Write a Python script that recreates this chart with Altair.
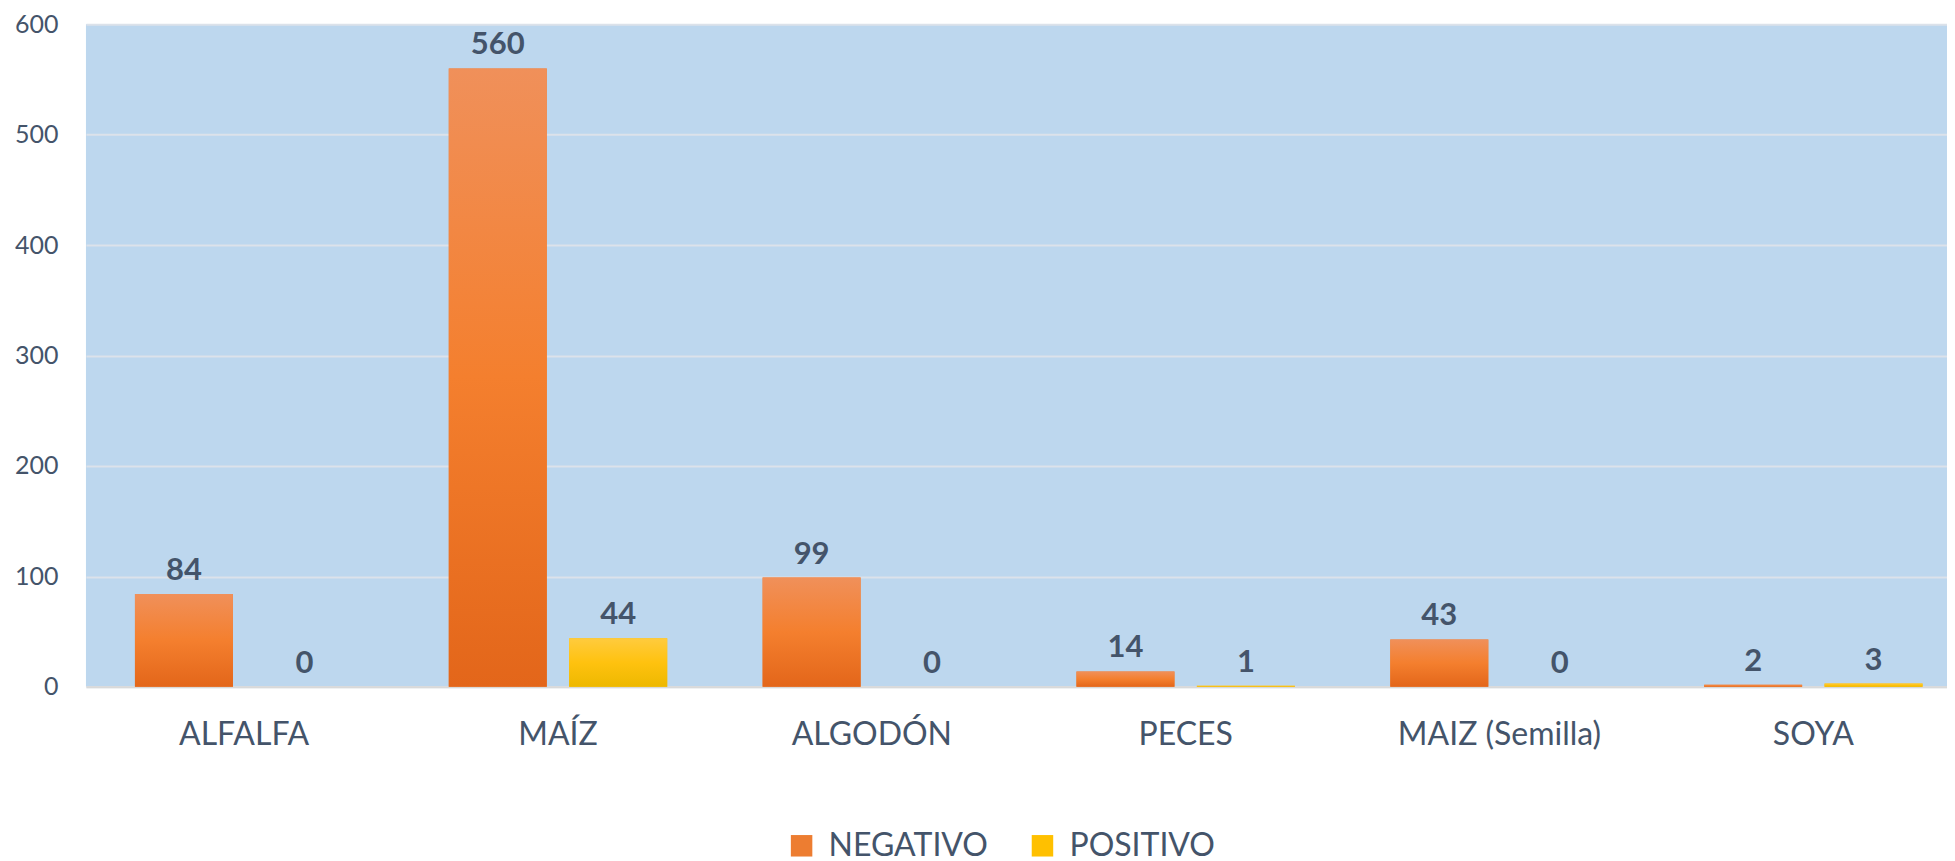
import altair as alt
import pandas as pd

cultivos = ["ALFALFA", "MAÍZ", "ALGODÓN", "PECES", "MAIZ (Semilla)", "SOYA"]
negativo = [84, 560, 99, 14, 43, 2]
positivo = [0, 44, 0, 1, 0, 3]
series = ["NEGATIVO", "POSITIVO"]
y_ticks = [0, 100, 200, 300, 400, 500, 600]

rows = []
for c, n, p in zip(cultivos, negativo, positivo):
    rows.append({"Cultivo": c, "Serie": "NEGATIVO", "Valor": n})
    rows.append({"Cultivo": c, "Serie": "POSITIVO", "Valor": p})
df = pd.DataFrame(rows)

TXT = "#44546A"
FONT = "Lato"

x_enc = alt.X(
    "Cultivo:N",
    sort=cultivos,
    scale=alt.Scale(domain=cultivos, paddingInner=0.304, paddingOuter=0.117, align=0.667),
    axis=alt.Axis(
        title=None, labelAngle=0, labelFont=FONT, labelFontSize=32, labelColor=TXT,
        labelPadding=33, labelLimit=0, ticks=False, grid=False, domain=True,
        domainColor="#D9D9D9", domainWidth=2,
    ),
)
xo_enc = alt.XOffset("Serie:N", scale=alt.Scale(domain=series, paddingInner=0.186, paddingOuter=0))
y_enc = alt.Y(
    "Valor:Q",
    scale=alt.Scale(domain=[0, 600], nice=False),
    axis=alt.Axis(
        title=None, values=y_ticks, labelFont=FONT, labelFontSize=25, labelColor=TXT,
        labelPadding=28, ticks=False, domain=False, grid=True,
        gridColor="#DCE2EA", gridWidth=2,
    ),
)

base = alt.Chart(df)

bars_solid = base.mark_bar().encode(
    x=x_enc,
    xOffset=xo_enc,
    y=y_enc,
    color=alt.Color(
        "Serie:N",
        scale=alt.Scale(domain=series, range=["#ED7D31", "#FFC000"]),
        legend=alt.Legend(
            title=None, orient="none", legendX=700, legendY=806, direction="horizontal",
            symbolType="square", symbolSize=462, symbolStrokeWidth=0,
            labelFont=FONT, labelFontSize=32, labelColor=TXT, labelOffset=11,
            columnPadding=38, padding=0, labelLimit=0,
        ),
    ),
)

grad_orange = alt.Gradient(
    gradient="linear",
    stops=[
        alt.GradientStop(color="#F0905A", offset=0),
        alt.GradientStop(color="#F47F2E", offset=0.5),
        alt.GradientStop(color="#E3661A", offset=1),
    ],
    x1=0, x2=0, y1=0, y2=1,
)
grad_yellow = alt.Gradient(
    gradient="linear",
    stops=[
        alt.GradientStop(color="#FFCB3E", offset=0),
        alt.GradientStop(color="#FFC20F", offset=0.5),
        alt.GradientStop(color="#EDB800", offset=1),
    ],
    x1=0, x2=0, y1=0, y2=1,
)

bars_neg = base.transform_filter(alt.datum.Serie == "NEGATIVO").mark_bar(color=grad_orange).encode(
    x=x_enc, xOffset=xo_enc, y=y_enc
)
bars_pos = base.transform_filter(alt.datum.Serie == "POSITIVO").mark_bar(color=grad_yellow).encode(
    x=x_enc, xOffset=xo_enc, y=y_enc
)

labels = base.mark_text(
    font=FONT, fontSize=31, fontWeight="bold", color=TXT, baseline="alphabetic", dy=-14
).encode(
    x=x_enc, xOffset=xo_enc, y=y_enc, text=alt.Text("Valor:Q")
)

chart = (
    alt.layer(bars_solid, bars_neg, bars_pos, labels)
    .properties(
        width=1862, height=663,
        padding={"left": 6, "top": 4, "right": 0, "bottom": 0},
        background="white",
    )
    .configure_view(fill="#BDD7EE", strokeWidth=0)
)

chart.save("out.html", embed_options={"renderer": "svg", "actions": False})
